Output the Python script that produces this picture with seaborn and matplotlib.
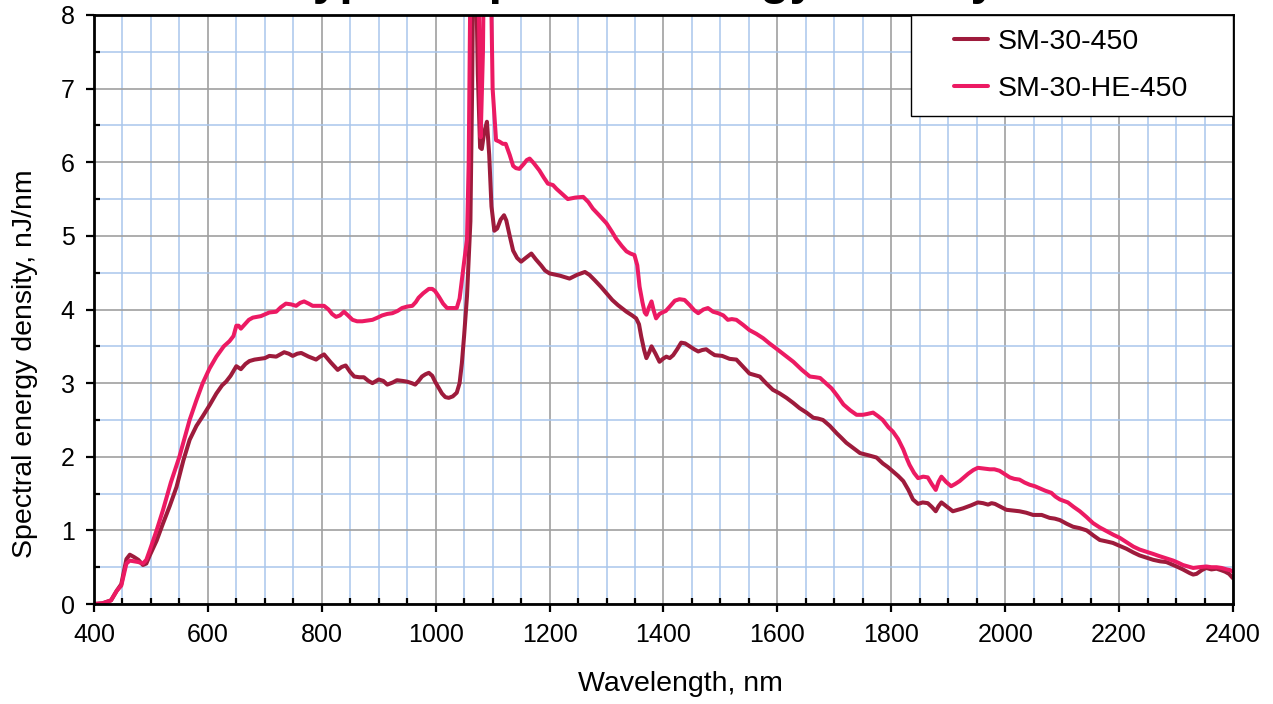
import numpy as np
import pandas as pd
import matplotlib
matplotlib.use("Agg")
import matplotlib.pyplot as plt
import seaborn as sns
from matplotlib.ticker import MultipleLocator

# values (nm, nJ/nm)
series_names = ["SM-30-450", "SM-30-HE-450"]
series_colors = ["#9E1B3C", "#EC1A63"]

wl_450 = [400, 415, 430, 440, 448, 457, 463, 470, 478, 486, 492, 498, 510, 521, 533, 545, 557, 568, 580, 591,
          603, 615, 625, 632, 640, 650, 658, 666, 673, 682, 691, 700, 708, 720, 734, 742, 749, 757, 764, 777,
          790, 797, 804, 816, 828, 835, 842, 850, 857, 866, 874, 882, 889, 900, 908, 915, 925, 932, 942, 950,
          958, 964, 970, 976, 982, 988, 994, 999, 1005, 1011, 1017, 1023, 1030, 1037, 1042, 1046, 1050, 1055, 1061, 1064,
          1067, 1070, 1074, 1078, 1081, 1085, 1090, 1094, 1098, 1103, 1108, 1114, 1120, 1124, 1130, 1136, 1143, 1150, 1158, 1168,
          1176, 1185, 1192, 1200, 1218, 1235, 1248, 1262, 1270, 1279, 1290, 1300, 1310, 1320, 1335, 1345, 1352, 1357, 1361, 1366,
          1370, 1375, 1379, 1386, 1393, 1399, 1405, 1411, 1417, 1424, 1431, 1438, 1446, 1454, 1461, 1468, 1475, 1482, 1490, 1503,
          1516, 1528, 1540, 1551, 1560, 1569, 1580, 1592, 1604, 1616, 1628, 1639, 1651, 1663, 1671, 1680, 1692, 1704, 1712, 1721,
          1733, 1745, 1760, 1774, 1785, 1794, 1803, 1812, 1821, 1830, 1838, 1847, 1855, 1864, 1871, 1878, 1883, 1888, 1898, 1908,
          1917, 1926, 1940, 1952, 1961, 1970, 1976, 1982, 1992, 2002, 2014, 2025, 2037, 2049, 2064, 2078, 2087, 2096, 2108, 2119,
          2131, 2143, 2155, 2166, 2178, 2189, 2201, 2213, 2225, 2236, 2248, 2260, 2272, 2283, 2292, 2301, 2312, 2324, 2330, 2336,
          2345, 2353, 2362, 2371, 2379, 2386, 2393, 2400]
sed_450 = [0.00, 0.01, 0.05, 0.18, 0.27, 0.61, 0.67, 0.64, 0.60, 0.53, 0.55, 0.66, 0.86, 1.09, 1.33, 1.59, 1.95, 2.23, 2.42, 2.55,
           2.70, 2.86, 2.97, 3.02, 3.10, 3.23, 3.19, 3.26, 3.30, 3.32, 3.33, 3.34, 3.37, 3.36, 3.42, 3.40, 3.37, 3.40, 3.41, 3.36,
           3.32, 3.36, 3.39, 3.28, 3.18, 3.22, 3.24, 3.15, 3.09, 3.08, 3.08, 3.03, 3.00, 3.05, 3.03, 2.98, 3.01, 3.04, 3.03, 3.02,
           3.00, 2.98, 3.03, 3.09, 3.12, 3.14, 3.10, 3.02, 2.94, 2.86, 2.81, 2.80, 2.82, 2.87, 3.00, 3.27, 3.65, 4.18, 5.20, 7.00,
           9.50, 9.00, 7.20, 6.20, 6.18, 6.40, 6.55, 6.10, 5.40, 5.07, 5.10, 5.22, 5.28, 5.21, 5.00, 4.80, 4.70, 4.65, 4.70, 4.76,
           4.68, 4.60, 4.53, 4.49, 4.46, 4.42, 4.47, 4.51, 4.47, 4.40, 4.31, 4.22, 4.13, 4.06, 3.97, 3.92, 3.88, 3.80, 3.63, 3.45,
           3.34, 3.42, 3.50, 3.40, 3.29, 3.33, 3.36, 3.34, 3.38, 3.46, 3.55, 3.54, 3.50, 3.46, 3.43, 3.45, 3.46, 3.42, 3.38, 3.37,
           3.33, 3.32, 3.22, 3.13, 3.11, 3.09, 3.00, 2.91, 2.86, 2.80, 2.73, 2.66, 2.60, 2.53, 2.52, 2.50, 2.42, 2.32, 2.26, 2.19,
           2.12, 2.05, 2.02, 1.99, 1.91, 1.86, 1.80, 1.74, 1.67, 1.55, 1.42, 1.36, 1.38, 1.37, 1.32, 1.26, 1.33, 1.38, 1.32, 1.26,
           1.28, 1.30, 1.34, 1.38, 1.37, 1.35, 1.37, 1.36, 1.32, 1.28, 1.27, 1.26, 1.24, 1.21, 1.21, 1.17, 1.16, 1.14, 1.09, 1.05,
           1.03, 1.00, 0.93, 0.87, 0.85, 0.83, 0.79, 0.75, 0.70, 0.66, 0.63, 0.60, 0.58, 0.57, 0.54, 0.51, 0.47, 0.42, 0.40, 0.41,
           0.46, 0.49, 0.47, 0.48, 0.46, 0.44, 0.41, 0.35]

wl_he = [400, 415, 430, 440, 448, 457, 463, 470, 478, 486, 492, 498, 510, 521, 535, 550, 560, 568, 580, 591,
         603, 615, 628, 638, 645, 650, 654, 658, 665, 672, 679, 693, 708, 720, 728, 737, 746, 755, 762, 769,
         777, 784, 795, 804, 812, 818, 825, 832, 839, 846, 854, 862, 871, 880, 889, 898, 906, 915, 924, 933,
         941, 950, 959, 965, 970, 978, 988, 994, 999, 1006, 1013, 1020, 1028, 1037, 1042, 1046, 1050, 1055, 1058, 1061,
         1066, 1071, 1075, 1079, 1083, 1087, 1092, 1096, 1100, 1106, 1112, 1118, 1123, 1130, 1136, 1141, 1147, 1155, 1160, 1165,
         1172, 1182, 1190, 1197, 1206, 1212, 1222, 1232, 1245, 1259, 1268, 1276, 1287, 1300, 1310, 1317, 1327, 1335, 1342, 1349,
         1354, 1358, 1363, 1367, 1370, 1374, 1379, 1383, 1387, 1393, 1398, 1404, 1411, 1420, 1428, 1437, 1446, 1454, 1461, 1470,
         1478, 1487, 1496, 1505, 1513, 1520, 1528, 1540, 1551, 1563, 1575, 1586, 1598, 1613, 1628, 1643, 1657, 1667, 1675, 1685,
         1695, 1705, 1716, 1728, 1739, 1750, 1757, 1768, 1777, 1785, 1795, 1803, 1812, 1821, 1827, 1832, 1840, 1847, 1856, 1864,
         1871, 1878, 1883, 1888, 1896, 1905, 1912, 1920, 1935, 1944, 1952, 1962, 1973, 1981, 1990, 2000, 2008, 2016, 2025, 2034,
         2043, 2052, 2061, 2070, 2081, 2088, 2096, 2103, 2110, 2120, 2131, 2143, 2154, 2166, 2178, 2190, 2201, 2213, 2225, 2236,
         2248, 2260, 2271, 2283, 2295, 2304, 2312, 2321, 2330, 2340, 2353, 2362, 2371, 2380, 2389, 2395, 2400]
sed_he = [0.00, 0.01, 0.05, 0.18, 0.25, 0.55, 0.59, 0.58, 0.57, 0.55, 0.60, 0.73, 1.00, 1.27, 1.65, 2.00, 2.28, 2.50, 2.77, 3.00,
          3.20, 3.36, 3.50, 3.57, 3.64, 3.78, 3.78, 3.74, 3.80, 3.86, 3.89, 3.91, 3.96, 3.97, 4.03, 4.08, 4.07, 4.05, 4.09, 4.11,
          4.08, 4.05, 4.05, 4.05, 4.00, 3.94, 3.90, 3.92, 3.97, 3.92, 3.86, 3.84, 3.84, 3.85, 3.86, 3.89, 3.92, 3.94, 3.95, 3.98,
          4.02, 4.04, 4.05, 4.10, 4.16, 4.22, 4.28, 4.28, 4.25, 4.17, 4.08, 4.02, 4.02, 4.02, 4.15, 4.40, 4.65, 4.95, 6.00, 8.50,
          12.0, 11.0, 8.50, 6.34, 7.50, 10.5, 11.0, 9.00, 7.00, 6.30, 6.28, 6.25, 6.25, 6.10, 5.95, 5.92, 5.91, 5.98, 6.03, 6.05,
          5.99, 5.89, 5.79, 5.71, 5.69, 5.64, 5.57, 5.50, 5.52, 5.53, 5.46, 5.37, 5.28, 5.17, 5.05, 4.96, 4.86, 4.79, 4.76, 4.74,
          4.60, 4.31, 4.10, 3.96, 3.93, 4.02, 4.11, 3.98, 3.88, 3.94, 3.96, 3.98, 4.04, 4.12, 4.14, 4.13, 4.06, 3.99, 3.95, 4.00,
          4.02, 3.97, 3.95, 3.92, 3.86, 3.87, 3.86, 3.79, 3.72, 3.67, 3.61, 3.54, 3.47, 3.38, 3.29, 3.18, 3.09, 3.08, 3.07, 3.00,
          2.93, 2.83, 2.71, 2.63, 2.57, 2.57, 2.58, 2.60, 2.55, 2.50, 2.40, 2.34, 2.24, 2.10, 1.98, 1.89, 1.78, 1.71, 1.73, 1.72,
          1.63, 1.55, 1.66, 1.73, 1.66, 1.60, 1.63, 1.67, 1.77, 1.82, 1.85, 1.84, 1.83, 1.83, 1.81, 1.76, 1.72, 1.70, 1.69, 1.65,
          1.62, 1.60, 1.57, 1.54, 1.51, 1.46, 1.42, 1.40, 1.38, 1.32, 1.26, 1.18, 1.10, 1.04, 0.99, 0.94, 0.90, 0.84, 0.78, 0.74,
          0.71, 0.68, 0.65, 0.62, 0.59, 0.56, 0.53, 0.51, 0.49, 0.50, 0.51, 0.50, 0.50, 0.49, 0.47, 0.46, 0.44]

title_text = "Typical spectral energy density"
x_label = "Wavelength, nm"
y_label = "Spectral energy density, nJ/nm"

sns.set_theme(style="white")
plt.rcParams['font.family'] = ['Liberation Sans', 'DejaVu Sans']
plt.rcParams['text.color'] = 'black'
plt.rcParams['axes.labelcolor'] = 'black'
plt.rcParams['xtick.color'] = 'black'
plt.rcParams['ytick.color'] = 'black'

df = pd.concat([
    pd.DataFrame({'wl': wl_450, 'sed': sed_450, 'series': series_names[0]}),
    pd.DataFrame({'wl': wl_he, 'sed': sed_he, 'series': series_names[1]}),
], ignore_index=True)

fig = plt.figure(figsize=(12.73, 7.04), dpi=100)
ax = fig.add_axes([0.0738, 0.142, 0.8948, 0.8367])

sns.lineplot(data=df, x='wl', y='sed', hue='series', hue_order=series_names,
             palette=series_colors, estimator=None, linewidth=2.9, legend=False, ax=ax)

ax.set_xlim(400, 2400)
ax.set_ylim(0, 8)
ax.xaxis.set_major_locator(MultipleLocator(200))
ax.xaxis.set_minor_locator(MultipleLocator(50))
ax.yaxis.set_major_locator(MultipleLocator(1))
ax.yaxis.set_minor_locator(MultipleLocator(0.5))

ax.set_axisbelow(True)
ax.grid(which='minor', color='#A9C6EC', linewidth=1.1)
ax.grid(which='major', color='#A0A0A0', linewidth=1.2)

for s in ax.spines.values():
    s.set_color('black')
    s.set_linewidth(2.0)
    s.set_visible(True)

ax.tick_params(which='major', direction='out', length=6, width=1.6,
               labelsize=18, pad=8, bottom=True, left=True)
ax.tick_params(which='minor', direction='in', length=4, width=1.6,
               bottom=True, left=True)

ax.set_xlabel(x_label, fontsize=20.5)
ax.set_ylabel(y_label, fontsize=20.5)
# labels sit a bit off-centre in the original
ax.xaxis.set_label_coords(0.5145, -0.113)
ax.yaxis.set_label_coords(-0.049, 0.4075)

leg = ax.legend(ax.get_lines()[:2], series_names, loc='upper left',
                bbox_to_anchor=(0.7173, 0.835, 0.2827, 0.165), mode='expand',
                borderaxespad=0, fontsize=20.5, frameon=True, fancybox=False, framealpha=1,
                borderpad=0.5, labelspacing=0.72, handlelength=2.2, handletextpad=0.36)
leg.get_frame().set_edgecolor('black')
leg.get_frame().set_linewidth(1.0)
# shorter handle lines, set back from the frame like the original
for ln in leg.get_lines():
    xd = np.asarray(ln.get_xdata(), dtype=float)
    start = xd[0] + 0.46 * (xd[-1] - xd[0])
    ln.set_xdata(np.linspace(start, xd[-1], len(xd)))
    ln.set_linewidth(2.9)

# title sits above the top edge, only descenders show
fig.text(0.504, 1.0085, title_text, ha='center', va='baseline', fontsize=34.5, fontweight='bold')

fig.savefig('out.png', dpi=100)
